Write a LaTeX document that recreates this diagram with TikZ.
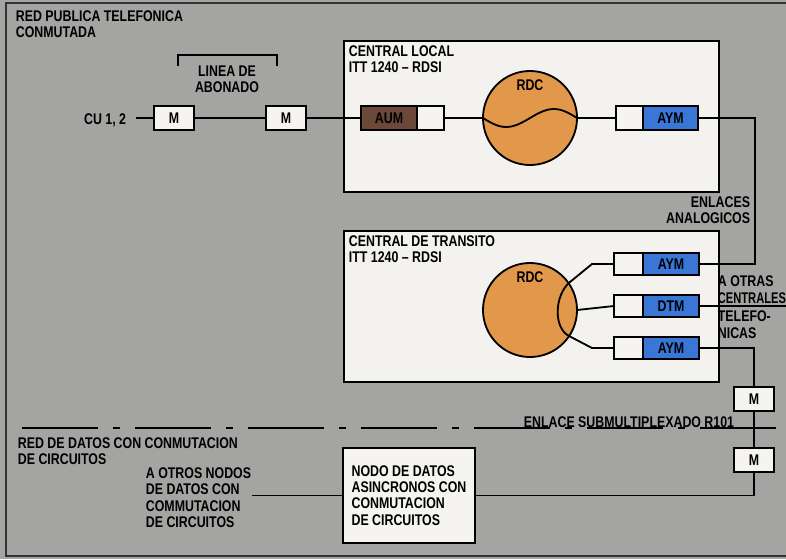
\documentclass[tikz,border=0pt]{standalone}
\usepackage{fontspec}
\setmainfont{Liberation Sans}[FakeStretch=0.8]
\usetikzlibrary{positioning}
\definecolor{bggray}{RGB}{164,164,162}
\definecolor{panelwhite}{RGB}{243,242,238}
\definecolor{boxwhite}{RGB}{245,244,240}
\definecolor{aumbrown}{RGB}{108,72,56}
\definecolor{aymblue}{RGB}{58,118,214}
\definecolor{rdcorange}{RGB}{226,152,74}
\tikzset{
  txt/.style={inner sep=0pt,align=left},
  panel/.style={rectangle,draw,fill=panelwhite,anchor=north west,inner sep=0pt,minimum width=9.375cm,minimum height=3.775cm},
  mbox/.style={rectangle,draw,fill=boxwhite,inner sep=0pt,outer sep=0pt,minimum width=1cm,minimum height=0.6cm},
  whitepart/.style={rectangle,draw,fill=boxwhite,inner sep=0pt,outer sep=0pt,minimum width=0.675cm,minimum height=0.6cm},
  aumpart/.style={rectangle,draw,fill=aumbrown,inner sep=0pt,outer sep=0pt,minimum width=1.4cm,minimum height=0.6cm},
  aympart/.style={rectangle,draw,fill=aymblue,inner sep=0pt,outer sep=0pt,minimum width=1.375cm,minimum height=0.6cm},
  rdc/.style={circle,draw,fill=rdcorange,inner sep=0pt,outer sep=0pt,minimum size=2.35cm,
    label={[inner sep=0pt,anchor=north,yshift=-0.19cm]north:RDC}},
  nodobox/.style={rectangle,draw,fill=boxwhite,align=left,minimum width=3.3cm,minimum height=2.375cm},
  frame/.style={line width=0.9pt,draw=black!80},
  sepline/.style={line width=1.1pt,dash pattern=on 1.9cm off 0.375cm on 0.175cm off 0.375cm}
}
\begin{document}
\begin{tikzpicture}[x=0.025cm,y=-0.025cm,line width=1.3pt,font=\fontsize{11}{11.5}\selectfont\bfseries]
  \useasboundingbox (0,0) rectangle (786,559);
  \clip (0,0) rectangle (786,559);
  \fill[bggray] (0,0) rectangle (786,559);
  \draw[frame] (6,3) rectangle (800,556);

  % red publica telefonica
  \node[txt,anchor=north west] (rtc) at (15,10) {RED PUBLICA TELEFONICA\\CONMUTADA};
  \node[panel] (local) at (343,40) {};
  \node[panel] (transito) at (343,230) {};
  \node[txt,anchor=north west] (locallbl) at (348,45) {CENTRAL LOCAL\\ITT 1240 – RDSI};
  \node[txt,anchor=north west] (translbl) at (348,235) {CENTRAL DE TRANSITO\\ITT 1240 – RDSI};

  % linea de abonado
  \draw (178,66) -- (178,55) -- (277,55) -- (277,66);
  \node[txt,align=center,anchor=north] (abonado) at (227,65) {LINEA DE\\ABONADO};
  \node[txt,anchor=base east] (cu) at (127,124) {CU 1, 2};
  \node[mbox] (m1) at (174,118) {M};
  \node[mbox] (m2) at (286,118) {M};

  % central local
  \node[aumpart] (aum) at (389,118) {AUM};
  \node[whitepart,right=0pt of aum] (aumw) {};
  \node[rdc] (rdcL) at (530,118) {};
  \node[whitepart] (aymLw) at (629.5,118) {};
  \node[aympart,right=0pt of aymLw] (aymL) {AYM};

  % central de transito
  \node[rdc] (rdcT) at (530,310) {};
  \node[whitepart,minimum width=0.725cm,minimum height=0.55cm] (aymTw) at (628.5,264) {};
  \node[aympart,minimum width=1.4cm,minimum height=0.55cm,right=0pt of aymTw] (aymT) {AYM};
  \node[whitepart,minimum width=0.725cm,minimum height=0.55cm] (dtmw) at (628.5,306) {};
  \node[aympart,minimum width=1.4cm,minimum height=0.55cm,right=0pt of dtmw] (dtm) {DTM};
  \node[whitepart,minimum width=0.725cm,minimum height=0.55cm] (aymBw) at (628.5,348) {};
  \node[aympart,minimum width=1.4cm,minimum height=0.55cm,right=0pt of aymBw] (aymB) {AYM};

  \node[txt,align=right,anchor=north east] (analog) at (751,196) {ENLACES\\ANALOGICOS};
  \node[txt,anchor=north west,font=\fontsize{11}{12.2}\selectfont\bfseries] (otras) at (717,275) {A OTRAS\\\scalebox{0.9}[1]{CENTRALES}\\TELEFO-\\NICAS};
  \coordinate (otrasend) at (786,306);

  % red de datos
  \draw[sepline] (22,428) -- (786,428);
  \node[txt,anchor=base west] (submux) at (523,427) {ENLACE SUBMULTIPLEXADO R101};
  \node[txt,anchor=north west] (rdd) at (17,437) {RED DE DATOS CON CONMUTACION\\DE CIRCUITOS};
  \node[txt,anchor=north west] (otros) at (145,467) {A OTROS NODOS\\DE DATOS CON\\COMMUTACION\\DE CIRCUITOS};
  \node[nodobox] (nodo) at (409,495.5) {NODO DE DATOS\\ASINCRONOS CON\\CONMUTACION\\DE CIRCUITOS};
  \node[mbox] (mA) at (754,399) {M};
  \node[mbox] (mB) at (754,460) {M};

  % conexiones
  \draw ([xshift=0.22cm]cu.east |- m1.west) -- (m1.west);
  \draw (m1) -- (m2);
  \draw (m2) -- (aum);
  \draw (aumw.east) -- (rdcL.west);
  \draw (rdcL.west) sin (506,127) cos (530,118) sin (554,109) cos (rdcL.east);
  \draw (rdcL.east) -- (aymLw.west);
  \draw (aymL.east) -- (755,118) |- (aymT.east);
  \draw (aymTw.west) -- (592,264) -- (570,282) .. controls (554.6,294.6) and (552.9,327.6) .. (569,336) -- (592,348) -- (aymBw.west);
  \draw (rdcT.east) -- (dtmw.west);
  \draw (dtm.east) -- (otrasend);
  \draw (aymB.east) -| (mA.north);
  \draw (mA) -- (mB);
  \draw (mB.south) |- (nodo.east);
  \draw (otros.east |- nodo.west) -- (nodo.west);
\end{tikzpicture}
\end{document}
